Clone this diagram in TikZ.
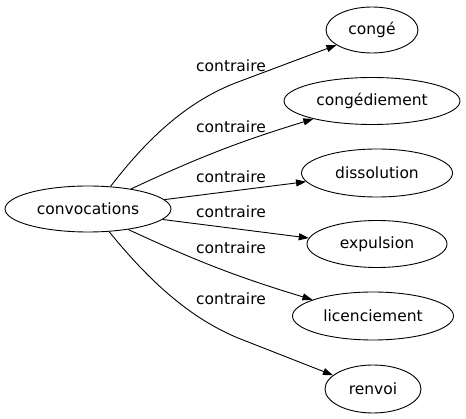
\documentclass[tikz,border=0pt]{standalone}
\usepackage{fontspec}
\setmainfont{DejaVu Sans}
\usetikzlibrary{shapes.geometric,arrows.meta}
\begin{document}
\begin{tikzpicture}[x=1pt,y=-1pt,
  every node/.style={font=\fontsize{15.5}{18}\selectfont},
  word/.style={ellipse,draw,line width=0.9pt,inner sep=0pt},
  lab/.style={inner sep=0pt},
  link/.style={line width=0.9pt,-{Triangle[length=10pt,width=7pt]}}]
\useasboundingbox (0,0) rectangle (466,419);
\node[word,minimum width=166pt,minimum height=46pt] (c) at (88,209) {convocations};
\node[word,minimum width=92pt,minimum height=46pt] (g) at (372,30) {congé};
\node[word,minimum width=176pt,minimum height=47pt] (d) at (372,101) {congédiement};
\node[word,minimum width=151pt,minimum height=48pt] (s) at (377,173) {dissolution};
\node[word,minimum width=140pt,minimum height=47pt] (x) at (377,244) {expulsion};
\node[word,minimum width=161pt,minimum height=48pt] (l) at (373,316) {licenciement};
\node[word,minimum width=96pt,minimum height=48pt] (r) at (373,389) {renvoi};
\node[lab] (l1) at (231,66) {contraire};
\node[lab] (l2) at (231,127) {contraire};
\node[lab] (l3) at (231,177) {contraire};
\node[lab] (l4) at (231,212) {contraire};
\node[lab] (l5) at (231,248) {contraire};
\node[lab] (l6) at (231,299) {contraire};
\draw[link] (c.45) .. controls (150,135) and (190,100) .. (238,82) -- (g.203);
\draw[link] (c.25) to[bend left=4] (d.197);
\draw[link] (c.7) -- (s.187);
\draw[link] (c.352) -- (x.175);
\draw[link] (c.333) to[bend right=4] (l.165);
\draw[link] (c.313) .. controls (150,282) and (190,318) .. (238,338) -- (r.161);
\end{tikzpicture}
\end{document}
